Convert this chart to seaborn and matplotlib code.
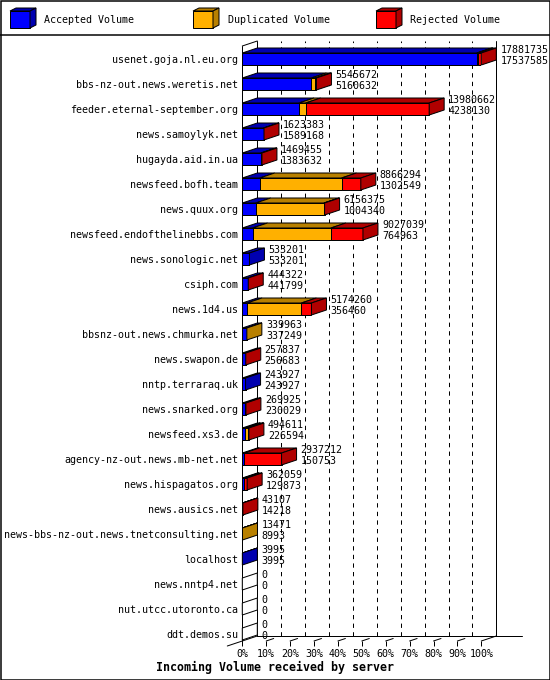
"""Incoming volume per server, innreport-style 3D stacked bars."""

import matplotlib
matplotlib.use("Agg")
import matplotlib.pyplot as plt
from matplotlib.patches import Polygon, Rectangle
import pandas as pd
import seaborn as sns

servers = [
    "usenet.goja.nl.eu.org", "bbs-nz-out.news.weretis.net", "feeder.eternal-september.org",
    "news.samoylyk.net", "hugayda.aid.in.ua", "newsfeed.bofh.team", "news.quux.org",
    "newsfeed.endofthelinebbs.com", "news.sonologic.net", "csiph.com", "news.1d4.us",
    "bbsnz-out.news.chmurka.net", "news.swapon.de", "nntp.terraraq.uk", "news.snarked.org",
    "newsfeed.xs3.de", "agency-nz-out.news.mb-net.net", "news.hispagatos.org",
    "news.ausics.net", "news-bbs-nz-out.news.tnetconsulting.net", "localhost",
    "news.nntp4.net", "nut.utcc.utoronto.ca", "ddt.demos.su",
]
accepted = [
    17537585, 5160632, 4238130, 1589168, 1383632, 1302549, 1004340, 764963, 533201,
    441799, 356460, 337249, 256683, 243927, 230029, 226594, 150753, 129873, 14218,
    8993, 3995, 0, 0, 0,
]
duplicated = [
    80000, 300000, 500000, 0, 0, 6120000, 5100000, 5860000, 0, 0, 4060000, 2714, 0, 0,
    0, 200000, 0, 0, 0, 4478, 0, 0, 0, 0,
]
rejected = [
    264150, 85040, 9242532, 34215, 85823, 1443745, 52035, 2402076, 0, 2523, 757800, 0,
    1154, 0, 39896, 68017, 2786459, 232186, 28889, 0, 0, 0, 0, 0,
]

BLUE, BLUE_D = "#0000ff", "#0000b0"
ORANGE, ORANGE_D = "#ffb000", "#b88000"
RED, RED_D = "#ff0000", "#b00000"
LW = 0.72  # one pixel at 100 dpi

df = pd.DataFrame({"server": servers, "accepted": accepted,
                   "duplicated": duplicated, "rejected": rejected})
df["acc_dup"] = df["accepted"] + df["duplicated"]
df["total"] = df["acc_dup"] + df["rejected"]

sns.set_theme(style="white")
plt.rcParams["font.family"] = ["DejaVu Sans Mono"]
FS = 7.2

W, H = 550, 680
fig = plt.figure(figsize=(W / 100, H / 100), dpi=100)
fig.patch.set_facecolor("white")

# main axes: front plane of the 3D box, in pixels
left_px, right_px, top_px, bot_px = 242.3, 481.3, 46, 641
ax = fig.add_axes([left_px / W, (H - bot_px) / H, (right_px - left_px) / W, (bot_px - top_px) / H])
ax.set_facecolor("none")

n = len(servers)
xmax = df["total"].max()
bar_h = 0.48
ybot, ytop = n - 1 + 0.28, -0.52
row_px = (bot_px - top_px) / (ybot - ytop)
px_x = xmax / (right_px - left_px)
dx = 15 * px_x          # depth offset, x
dy = 5 / row_px         # depth offset, y (rows)

# front faces: layered seaborn bars
for col, color in [("total", RED), ("acc_dup", ORANGE), ("accepted", BLUE)]:
    sns.barplot(data=df, x=col, y="server", orient="h", color=color, width=bar_h,
                saturation=1, edgecolor="black", linewidth=LW, errorbar=None, ax=ax, zorder=3)

# top and side faces
for i in range(n):
    top = i - bar_h / 2
    start = 0
    last_dark = None
    for col, dark in [("accepted", BLUE_D), ("duplicated", ORANGE_D), ("rejected", RED_D)]:
        w = df[col].iloc[i]
        if w > 0:
            ax.add_patch(Polygon([(start, top), (start + w, top), (start + w + dx, top - dy),
                                  (start + dx, top - dy)], closed=True, facecolor=dark,
                                 edgecolor="black", linewidth=LW, zorder=3, clip_on=False))
            start += w
            last_dark = dark
    ax.add_patch(Polygon([(start, top), (start, top + bar_h), (start + dx, top + bar_h - dy),
                          (start + dx, top - dy)], closed=True,
                         facecolor=last_dark or "white", edgecolor="black",
                         linewidth=LW, zorder=3, clip_on=False))
    tot = df["total"].iloc[i]
    ax.text(tot + dx + 4 * px_x, i - 9 / row_px, str(tot), fontsize=FS, ha="left",
            va="center", color="black", zorder=4, clip_on=False)
    ax.text(tot + dx + 4 * px_x, i + 2 / row_px, str(df["accepted"].iloc[i]), fontsize=FS,
            ha="left", va="center", color="black", zorder=4, clip_on=False)

# box: back wall, left wall and floor
line_kw = dict(color="black", linewidth=LW, clip_on=False)
for k in range(1, 10):
    xb = xmax * k / 10 + dx
    ax.plot([xb, xb], [ybot - dy, ytop - dy], linestyle=(0, (4.3, 4.3)), zorder=1, **line_kw)
ax.plot([xmax + dx, xmax + dx], [ybot - dy, ytop - dy], zorder=1, **line_kw)
ax.plot([dx, dx], [ybot - dy, ytop - dy], zorder=1, **line_kw)
ax.plot([0, 0], [ybot, ytop], zorder=2, **line_kw)
ax.plot([0, dx], [ytop, ytop - dy], zorder=2, **line_kw)
ax.plot([-dx, dx], [ybot + dy, ybot - dy], zorder=2, **line_kw)
ax.plot([dx, xmax + dx + 26 * px_x], [ybot - dy, ybot - dy], zorder=2, **line_kw)
ax.plot([xmax, xmax + dx], [ybot, ybot - dy], zorder=2, **line_kw)
for k in range(1, 10):
    xf = xmax * k / 10
    ax.plot([xf, xf + dx / 2], [ybot, ybot - dy / 2], zorder=2, **line_kw)

ax.set_xlim(0, xmax)
ax.set_ylim(ybot, ytop)
ax.set_xticks([xmax * k / 10 for k in range(11)])
ax.set_xticklabels([f"{k * 10}%" for k in range(11)], fontsize=FS)
ax.set_yticks(range(n))
ax.set_yticklabels(servers, fontsize=FS)
ax.tick_params(axis="x", length=3.6, width=LW, pad=2.5, color="black", direction="out",
               bottom=True, labelcolor="black")
ax.tick_params(axis="y", length=0, pad=3, labelcolor="black")
ax.set_xlabel("")
ax.set_ylabel("")
for s in ax.spines.values():
    s.set_visible(False)

# overlay for frame, legend and title
ov = fig.add_axes([0, 0, 1, 1], zorder=-1)
ov.set_xlim(0, W)
ov.set_ylim(H, 0)
ov.axis("off")
ov.add_patch(Rectangle((0.5, 0.5), W - 1, H - 1, fill=False, edgecolor="black", linewidth=LW * 1.5))
ov.plot([0, W], [34.5, 34.5], color="black", linewidth=LW * 1.5)

legend_items = [("Accepted Volume", BLUE, BLUE_D), ("Duplicated Volume", ORANGE, ORANGE_D),
                ("Rejected Volume", RED, RED_D)]
for j, (label, front, dark) in enumerate(legend_items):
    x0 = 10 + j * 183
    ov.add_patch(Rectangle((x0, 11), 20, 17, facecolor=front, edgecolor="black", linewidth=LW))
    ov.add_patch(Polygon([(x0, 11), (x0 + 20, 11), (x0 + 26, 8), (x0 + 6, 8)], closed=True,
                         facecolor=dark, edgecolor="black", linewidth=LW))
    ov.add_patch(Polygon([(x0 + 20, 11), (x0 + 26, 8), (x0 + 26, 25), (x0 + 20, 28)], closed=True,
                         facecolor=dark, edgecolor="black", linewidth=LW))
    ov.text(x0 + 34.5, 20, label, fontsize=FS, ha="left", va="center", color="black")

ov.text(156, 667, "Incoming Volume received by server", fontsize=8.4, fontweight="bold",
        ha="left", va="center", color="black")

fig.savefig("out.png", dpi=100)
plt.close(fig)
